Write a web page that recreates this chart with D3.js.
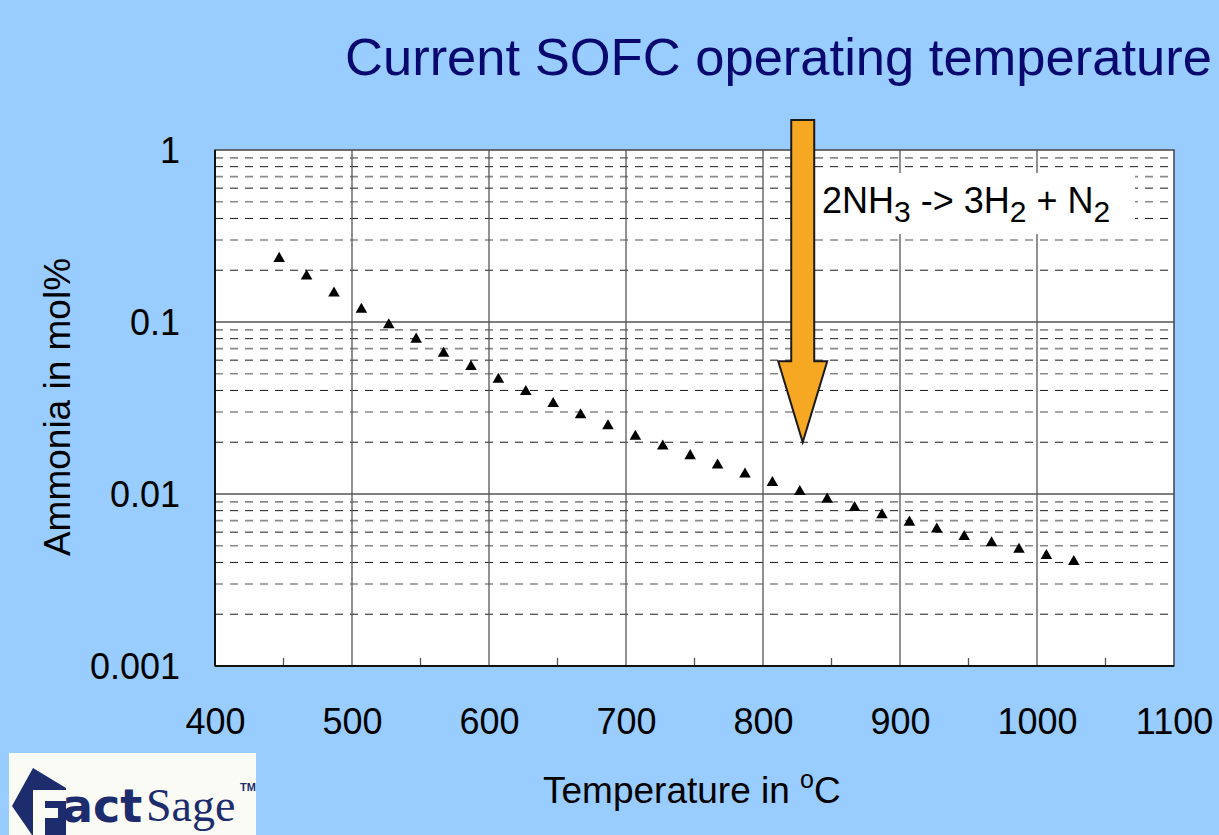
<!DOCTYPE html>
<html><head><meta charset="utf-8">
<script src="https://cdn.jsdelivr.net/npm/d3@7"></script>
<style>
body{margin:0;background:#99CCFF;overflow:hidden}
svg{display:block}
</style>
</head><body>
<svg id="c" width="1219" height="835" font-family="'Liberation Sans',Arial,Helvetica,sans-serif"></svg>
<script>
// ---- data (temperatures in °C, ammonia in mol%) ----
const temperatures = [446.85, 466.85, 486.85, 506.85, 526.85, 546.85, 566.85, 586.85, 606.85, 626.85,
  646.85, 666.85, 686.85, 706.85, 726.85, 746.85, 766.85, 786.85, 806.85, 826.85,
  846.85, 866.85, 886.85, 906.85, 926.85, 946.85, 966.85, 986.85, 1006.85, 1026.85];
const ammonia = [0.237, 0.187, 0.149, 0.120, 0.0974, 0.0804, 0.0666, 0.0557, 0.0470, 0.0399,
  0.0340, 0.0292, 0.0252, 0.0219, 0.0192, 0.0169, 0.0149, 0.0132, 0.0118, 0.01045,
  0.00944, 0.00844, 0.00765, 0.00694, 0.00632, 0.00572, 0.00526, 0.00483, 0.00444, 0.00409];
const xTicks = [400, 500, 600, 700, 800, 900, 1000, 1100];
const xMinorTicks = [450, 550, 650, 750, 850, 950, 1050];
const yTicks = [1, 0.1, 0.01, 0.001];
const yTickLabels = ["1", "0.1", "0.01", "0.001"];
const titleText = "Current SOFC operating temperature";
const arrowTemperature = 829;
const arrowTipValue = 0.02;

// ---- layout ----
const svg = d3.select("#c");
const W = 1219, H = 835;
const L = 215, R = 1174, T = 150, B = 666;
const SANS = "'Liberation Sans',Arial,Helvetica,sans-serif";
svg.append("rect").attr("width", W).attr("height", H).attr("fill", "#99CCFF");

const x = d3.scaleLinear().domain([400, 1100]).range([L, R]);
const y = d3.scaleLog().domain([0.001, 1]).range([B, T]);

// plot background
svg.append("rect").attr("x", L).attr("y", T).attr("width", R - L).attr("height", B - T).attr("fill", "#fff");

// minor horizontal dashed gridlines
const minorY = [];
[0.001, 0.01, 0.1].forEach(d => { for (let k = 2; k <= 9; k++) minorY.push({v: k * d, k}); });
svg.append("g").selectAll("line").data(minorY).join("line")
  .attr("x1", L).attr("x2", R)
  .attr("y1", d => y(d.v)).attr("y2", d => y(d.v))
  .attr("stroke", d => d.k % 2 === 0 ? "#1a1a1a" : "#8a8a8a")
  .attr("stroke-width", d => d.k % 2 === 0 ? 1 : 1.6)
  .attr("stroke-dasharray", "8,7");

// major gridlines
svg.append("g").selectAll("line").data([0.1, 0.01]).join("line")
  .attr("x1", L).attr("x2", R).attr("y1", d => y(d)).attr("y2", d => y(d))
  .attr("stroke", "#555").attr("stroke-width", 1.3);
svg.append("g").selectAll("line").data(xTicks.slice(1, -1)).join("line")
  .attr("x1", d => x(d)).attr("x2", d => x(d)).attr("y1", T).attr("y2", B)
  .attr("stroke", "#555").attr("stroke-width", 1.3);

// minor x ticks (inward)
svg.append("g").selectAll("line").data(xMinorTicks).join("line")
  .attr("x1", d => x(d)).attr("x2", d => x(d)).attr("y1", B).attr("y2", B - 8)
  .attr("stroke", "#555").attr("stroke-width", 1.3);

// frame
svg.append("rect").attr("x", L).attr("y", T).attr("width", R - L).attr("height", B - T)
  .attr("fill", "none").attr("stroke", "#444").attr("stroke-width", 1.5);
svg.append("line").attr("x1", L).attr("x2", L).attr("y1", T).attr("y2", B).attr("stroke", "#111").attr("stroke-width", 2);
svg.append("line").attr("x1", L).attr("x2", R).attr("y1", B).attr("y2", B).attr("stroke", "#111").attr("stroke-width", 2);

// axes (labels)
const gx = svg.append("g").attr("transform", `translate(0,${B})`)
  .call(d3.axisBottom(x).tickValues(xTicks).tickSize(0).tickPadding(42).tickFormat(d3.format("d")));
const gy = svg.append("g").attr("transform", `translate(${L},0)`)
  .call(d3.axisLeft(y).tickValues(yTicks).tickSize(0).tickPadding(35).tickFormat((d, i) => yTickLabels[i]));
[gx, gy].forEach(g => {
  g.attr("font-family", SANS).attr("font-size", 36);
  g.select(".domain").remove();
  g.selectAll("text").attr("fill", "#000");
});
gy.selectAll("text").attr("dy", "0.35em");

// data points
svg.append("g").selectAll("path").data(temperatures.map((t, i) => [t, ammonia[i]])).join("path")
  .attr("transform", d => `translate(${x(d[0])},${y(d[1]) + 1})`)
  .attr("d", d3.symbol(d3.symbolTriangle, 58))
  .attr("fill", "#000");

// reaction label box
const box = svg.append("g");
box.append("rect").attr("x", 815).attr("y", 173).attr("width", 320).attr("height", 61).attr("fill", "#fff");
const eq = box.append("text").attr("x", 822).attr("y", 213).attr("font-size", 36).attr("fill", "#000");
eq.append("tspan").text("2NH");
eq.append("tspan").attr("font-size", 30).attr("dy", 9).text("3");
eq.append("tspan").attr("dy", -9).text(" -> 3H");
eq.append("tspan").attr("font-size", 30).attr("dy", 9).text("2");
eq.append("tspan").attr("dy", -9).text(" + N");
eq.append("tspan").attr("font-size", 30).attr("dy", 9).text("2");

// arrow
const ax = x(arrowTemperature);
const tipY = y(arrowTipValue);
const topY = y(1) - 30;
const headY = tipY - 81;
const sw = 11.5, hw = 24.5;
svg.append("path")
  .attr("d", `M${ax - sw},${topY} L${ax + sw},${topY} L${ax + sw},${headY} L${ax + hw},${headY} L${ax},${tipY} L${ax - hw},${headY} L${ax - sw},${headY} Z`)
  .attr("fill", "#F7A823").attr("stroke", "#1a1a1a").attr("stroke-width", 2).attr("stroke-linejoin", "miter");

// title
svg.append("text").attr("x", 345).attr("y", 75).attr("font-size", 52).attr("fill", "#08086e")
  .attr("textLength", 867).attr("lengthAdjust", "spacingAndGlyphs").text(titleText);

// axis titles
svg.append("text").attr("transform", "translate(70,407) rotate(-90)").attr("text-anchor", "middle")
  .attr("font-size", 37).attr("fill", "#000").text("Ammonia in mol%");
const xt = svg.append("text").attr("x", 543).attr("y", 803).attr("font-size", 37).attr("fill", "#000");
xt.append("tspan").text("Temperature in ");
xt.append("tspan").attr("font-size", 25).attr("dy", -15).text("o");
xt.append("tspan").attr("dy", 15).text("C");

// logo
const logo = svg.append("g");
logo.append("rect").attr("x", 9).attr("y", 753).attr("width", 247).attr("height", 82).attr("fill", "#fbfbf6");
logo.append("path").attr("d", "M12,806 L33,768 L66,788 L66,835 L32,835 Z").attr("fill", "#1c2c6c");
logo.append("path").attr("d", "M33,790 L66,790 L66,801 L45,801 L45,808 L58,808 L58,818 L45,818 L45,835 L33,835 Z").attr("fill", "#fbfbf6");
logo.append("text").attr("x", 62).attr("y", 822).attr("font-size", 46).attr("font-weight", "bold")
  .attr("fill", "#1c2c6c").style("font-family", "'DejaVu Sans',sans-serif").text("act");
logo.append("text").attr("x", 146).attr("y", 821).attr("font-size", 46)
  .attr("fill", "#1c2c6c").style("font-family", "'Liberation Serif',serif").text("Sage");
logo.append("text").attr("x", 240).attr("y", 791).attr("font-size", 11).attr("font-weight", "bold")
  .attr("fill", "#1c2c6c").text("TM");
</script>
</body></html>
